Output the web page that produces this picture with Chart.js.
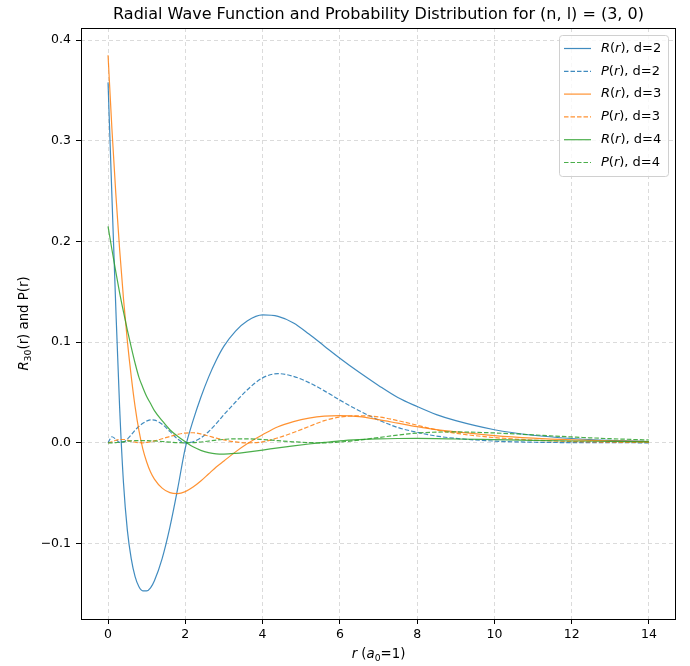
<!DOCTYPE html>
<html>
<head>
<meta charset="utf-8">
<script src="https://cdn.jsdelivr.net/npm/chart.js@4.4.0/dist/chart.umd.min.js"></script>
<style>
  html, body { margin: 0; padding: 0; background: #fff; }
  #wrap { width: 690px; height: 666px; }
</style>
</head>
<body>
<div id="wrap"><canvas id="radialChart" width="690" height="666"></canvas></div>
<script>
// r grid (a0 = 1) shared by all six curves
const rGrid = [0, 0.1, 0.2, 0.3, 0.4, 0.5, 0.6, 0.7, 0.8, 0.9, 1.0, 1.1, 1.2,
  1.4, 1.6, 1.8, 2.0, 2.2, 2.4, 2.6, 2.8, 3.0, 3.3, 3.6,
  4.0, 4.4, 4.8, 5.2, 5.6, 6.0, 6.5, 7.0, 7.5, 8.0, 8.5, 9.0,
  10, 11, 12, 13, 14];

// d = 2
const radialD2 = [0.358, 0.245, 0.135, 0.035, -0.040, -0.087, -0.115, -0.133, -0.143, -0.147, -0.147, -0.144, -0.137,
  -0.115, -0.084, -0.046, -0.005, 0.022, 0.045, 0.065, 0.082, 0.096, 0.111, 0.121,
  0.127, 0.1255, 0.119, 0.108, 0.096, 0.084, 0.070, 0.057, 0.045, 0.036, 0.028, 0.022,
  0.013, 0.0075, 0.0043, 0.0024, 0.0013];
const probD2 = [0, 0.0060, 0.0036, 0.0004, 0.0006, 0.0038, 0.0079, 0.0124, 0.0164, 0.0194, 0.0216, 0.0228, 0.0225,
  0.0185, 0.0113, 0.0038, 0.0000, 0.0011, 0.0049, 0.0110, 0.0190, 0.0280, 0.0405, 0.0525,
  0.0645, 0.0687, 0.0660, 0.0598, 0.0516, 0.0424, 0.0319, 0.0227, 0.0152, 0.0104, 0.0067, 0.0044,
  0.0017, 0.0006, 0.0002, 0.0001, 0.0000];

// d = 3
const radialD3 = [0.385, 0.312, 0.248, 0.192, 0.143, 0.101, 0.066, 0.036, 0.012, -0.006, -0.019, -0.029, -0.036,
  -0.045, -0.0495, -0.0505, -0.0485, -0.044, -0.038, -0.031, -0.024, -0.018, -0.009, -0.001,
  0.008, 0.016, 0.021, 0.0245, 0.0265, 0.027, 0.026, 0.023, 0.0195, 0.016, 0.013, 0.0108,
  0.0072, 0.0047, 0.003, 0.0019, 0.0012];
const probD3 = [0, 0.0010, 0.0025, 0.0033, 0.0033, 0.0026, 0.0016, 0.0006, 0.0001, 0.0000, 0.0004, 0.0010, 0.0019,
  0.0040, 0.0063, 0.0083, 0.0097, 0.0100, 0.0088, 0.0068, 0.0046, 0.0029, 0.0009, 0.0000,
  0.0010, 0.0050, 0.0102, 0.0162, 0.0220, 0.0255, 0.0268, 0.0258, 0.0220, 0.0175, 0.0128, 0.0095,
  0.0052, 0.0027, 0.0013, 0.0006, 0.0003];

// d = 4
const radialD4 = [0.215, 0.192, 0.170, 0.149, 0.130, 0.112, 0.095, 0.079, 0.065, 0.055, 0.046, 0.039, 0.032,
  0.022, 0.013, 0.0065, 0.001, -0.004, -0.0075, -0.0098, -0.0110, -0.0112, -0.0105, -0.0092,
  -0.0072, -0.0050, -0.0030, -0.0012, 0.0004, 0.0019, 0.0031, 0.0039, 0.0043, 0.0044, 0.0042, 0.0038,
  0.0031, 0.0024, 0.0018, 0.0014, 0.0010];
const probD4 = [0, 0.0000, 0.0002, 0.0006, 0.0011, 0.0016, 0.0019, 0.0021, 0.0022, 0.0022, 0.0021, 0.0020, 0.0018,
  0.0013, 0.0007, 0.0002, 0.0000, 0.0002, 0.0008, 0.0017, 0.0027, 0.0034, 0.0040, 0.0040,
  0.0033, 0.0021, 0.0010, 0.0002, 0.0000, 0.0008, 0.0027, 0.0052, 0.0077, 0.0097, 0.0106, 0.0108,
  0.0098, 0.0079, 0.0058, 0.0041, 0.0028];

const xTicks = [0, 2, 4, 6, 8, 10, 12, 14];
const yTicks = [-0.1, 0.0, 0.1, 0.2, 0.3, 0.4];

const titleText = 'Radial Wave Function and Probability Distribution for (n, l) = (3, 0)';
const FONT = "'DejaVu Sans', sans-serif";

// label pieces: i = italic, sub = subscript
const xLabelParts = [{ t: 'r', i: 1 }, { t: ' (' }, { t: 'a', i: 1 }, { t: '0', sub: 1 }, { t: '=1)' }];
const yLabelParts = [{ t: 'R', i: 1 }, { t: '30', sub: 1 }, { t: '(r) and P(r)' }];
const legendParts = (sym, d) => [{ t: sym, i: 1 }, { t: '(' }, { t: 'r', i: 1 }, { t: '), d=' + d }];

const blue = 'rgba(31, 119, 180, 0.85)';
const orange = 'rgba(255, 127, 14, 0.85)';
const green = 'rgba(44, 160, 44, 0.85)';
const dashPattern = [4.5, 2];

const series = [
  { sym: 'R', d: 2, data: radialD2, color: blue, dash: [] },
  { sym: 'P', d: 2, data: probD2, color: blue, dash: dashPattern },
  { sym: 'R', d: 3, data: radialD3, color: orange, dash: [] },
  { sym: 'P', d: 3, data: probD3, color: orange, dash: dashPattern },
  { sym: 'R', d: 4, data: radialD4, color: green, dash: [] },
  { sym: 'P', d: 4, data: probD4, color: green, dash: dashPattern }
];

function partFont(p, size) {
  const s = p.sub ? size * 0.7 : size;
  return (p.i ? 'italic ' : '') + s + 'px ' + FONT;
}

function richWidth(ctx, parts, size) {
  let w = 0;
  parts.forEach((p) => { ctx.font = partFont(p, size); w += ctx.measureText(p.t).width; });
  return w;
}

// draws text pieces starting at x (left), vertically centered on y
function drawRich(ctx, parts, x, y, size) {
  ctx.textAlign = 'left';
  ctx.textBaseline = 'middle';
  parts.forEach((p) => {
    ctx.font = partFont(p, size);
    ctx.fillText(p.t, x, p.sub ? y + size * 0.28 : y);
    x += ctx.measureText(p.t).width;
  });
}

const decorations = {
  id: 'decorations',
  afterDraw(chart) {
    const { ctx, chartArea: a } = chart;
    ctx.save();
    ctx.fillStyle = '#000';

    // axes frame
    ctx.strokeStyle = '#000';
    ctx.lineWidth = 1;
    ctx.setLineDash([]);
    ctx.strokeRect(a.left + 0.5, a.top + 0.5, a.right - a.left - 1, a.bottom - a.top);

    // title
    ctx.font = '16px ' + FONT;
    ctx.textAlign = 'center';
    ctx.textBaseline = 'middle';
    ctx.fillText(titleText, (a.left + a.right) / 2, 15);

    // x label
    const xw = richWidth(ctx, xLabelParts, 13.3);
    drawRich(ctx, xLabelParts, (a.left + a.right) / 2 - xw / 2, 655, 13.3);

    // y label (rotated)
    const yw = richWidth(ctx, yLabelParts, 13.3);
    ctx.save();
    ctx.translate(25, (a.top + a.bottom) / 2);
    ctx.rotate(-Math.PI / 2);
    drawRich(ctx, yLabelParts, -yw / 2, 0, 13.3);
    ctx.restore();

    // legend
    const bx = a.right - 117, by = a.top + 7, bw = 109, bh = 141;
    ctx.fillStyle = 'rgba(255,255,255,0.8)';
    ctx.strokeStyle = '#d0d0d0';
    ctx.lineWidth = 1;
    ctx.beginPath();
    ctx.roundRect(bx + 0.5, by + 0.5, bw, bh, 3);
    ctx.fill();
    ctx.stroke();
    series.forEach((s, k) => {
      const y = by + 13.5 + k * 22.8;
      ctx.strokeStyle = s.color;
      ctx.lineWidth = 1.2;
      ctx.setLineDash(s.dash);
      ctx.beginPath();
      ctx.moveTo(bx + 5, y);
      ctx.lineTo(bx + 32, y);
      ctx.stroke();
      ctx.setLineDash([]);
      ctx.fillStyle = '#000';
      drawRich(ctx, legendParts(s.sym, s.d), bx + 42, y, 13);
    });
    ctx.restore();
  }
};

const gridColor = 'rgba(176, 176, 176, 0.45)';

new Chart(document.getElementById('radialChart'), {
  type: 'line',
  data: {
    datasets: series.map((s, k) => ({
      label: (s.sym + '(r), d=' + s.d),
      data: rGrid.map((r, j) => ({ x: r, y: s.data[j] })),
      borderColor: s.color,
      borderWidth: 1.2,
      borderDash: s.dash,
      pointRadius: 0,
      fill: false,
      cubicInterpolationMode: 'monotone',
      order: series.length - k
    }))
  },
  options: {
    responsive: false,
    animation: false,
    events: [],
    layout: { padding: { top: 28, right: 14, left: 0, bottom: 0 } },
    plugins: { legend: { display: false }, tooltip: { enabled: false }, title: { display: false } },
    scales: {
      x: {
        type: 'linear',
        min: -0.7,
        max: 14.7,
        afterBuildTicks: (axis) => { axis.ticks = xTicks.map((v) => ({ value: v })); },
        afterFit: (axis) => { axis.height = 47; },
        ticks: { color: '#000', font: { family: FONT, size: 12.5 }, padding: 3, maxRotation: 0, autoSkip: false,
          callback: (v) => String(v) },
        grid: { color: gridColor, lineWidth: 1, tickColor: '#000', tickLength: 5, tickWidth: 1, tickBorderDash: [] },
        border: { display: false, dash: [4, 3] }
      },
      y: {
        type: 'linear',
        min: -0.175,
        max: 0.412,
        afterBuildTicks: (axis) => { axis.ticks = yTicks.map((v) => ({ value: v })); },
        afterFit: (axis) => { axis.width = 81; },
        ticks: { color: '#000', font: { family: FONT, size: 12.5 }, padding: 5, autoSkip: false,
          callback: (v) => (Math.abs(v) < 1e-9 ? '0.0' : v.toFixed(1)).replace('-', '\u2212') },
        grid: { color: gridColor, lineWidth: 1, tickColor: '#000', tickLength: 5, tickWidth: 1, tickBorderDash: [] },
        border: { display: false, dash: [4, 3] }
      }
    }
  },
  plugins: [decorations]
});
</script>
</body>
</html>
